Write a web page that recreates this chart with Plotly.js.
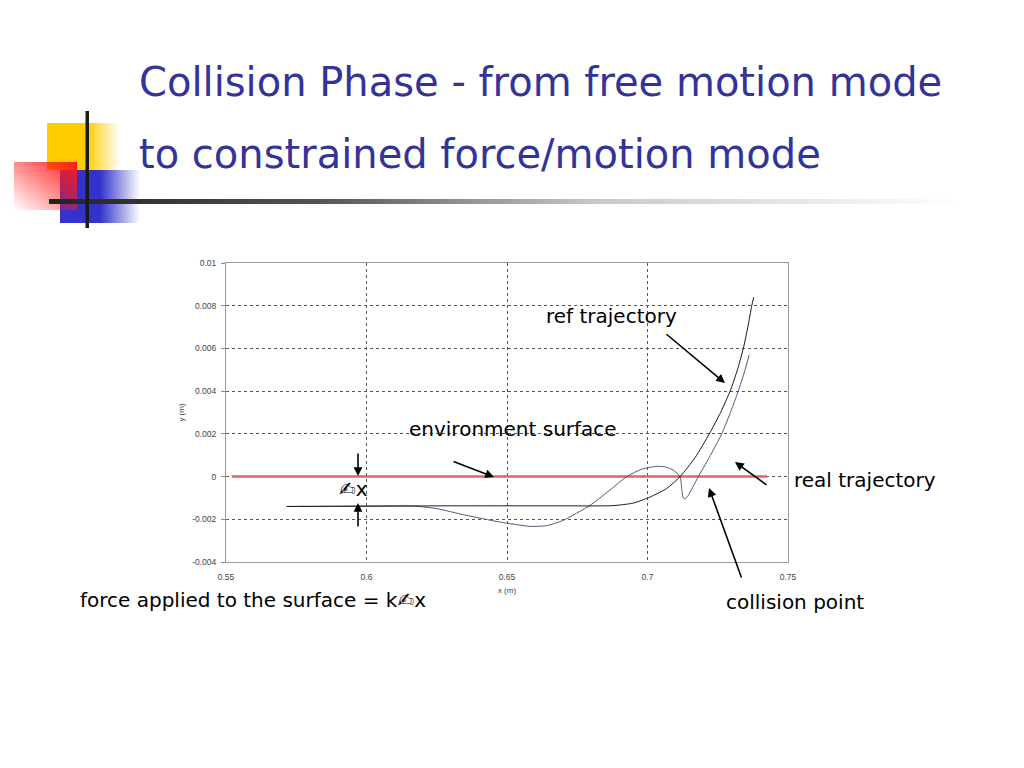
<!DOCTYPE html>
<html>
<head>
<meta charset="utf-8">
<script src="https://cdn.plot.ly/plotly-3.0.1.min.js"></script>
<style>
  html, body { margin: 0; padding: 0; background: #ffffff; }
  #chart { width: 1024px; height: 768px; }
</style>
</head>
<body>
<div id="chart"></div>
<script>
// ---- data ----
const refX = [0.5716, 0.590, 0.610, 0.630, 0.650, 0.670, 0.6877, 0.6950, 0.7009, 0.7068, 0.7116, 0.7170, 0.7220, 0.7260, 0.7294, 0.7320, 0.7341, 0.7357, 0.7371, 0.7378];
const refY = [-0.00140, -0.00139, -0.00138, -0.00137, -0.00137, -0.00137, -0.00136, -0.00124, -0.00096, -0.00056, 0.0, 0.00090, 0.00200, 0.00300, 0.00400, 0.00500, 0.00600, 0.00700, 0.00800, 0.00840];

const realX = [0.5716, 0.590, 0.6050, 0.6166, 0.625, 0.635, 0.6475, 0.6582, 0.664, 0.670, 0.6795, 0.686, 0.6926, 0.698, 0.7033, 0.7065, 0.7092, 0.7116, 0.7122, 0.7127, 0.7134, 0.7145, 0.7165, 0.7181, 0.7220, 0.7264, 0.7295, 0.7323, 0.7345, 0.7362];
const realY = [-0.00140, -0.00139, -0.00138, -0.00138, -0.00150, -0.00180, -0.00213, -0.00233, -0.00230, -0.00205, -0.00135, -0.00070, 0.0, 0.00035, 0.00048, 0.00045, 0.00030, 0.0, -0.00060, -0.00100, -0.00104, -0.00088, -0.00040, 0.0, 0.00090, 0.00200, 0.00300, 0.00400, 0.00490, 0.00570];

const surfaceX = [0.5521, 0.7425];
const surfaceY = [0, 0];

const xTickVals = [0.55, 0.6, 0.65, 0.7, 0.75];
const xTickLabels = ["0.55", "0.6", "0.65", "0.7", "0.75"];
const yTickVals = [-0.004, -0.002, 0, 0.002, 0.004, 0.006, 0.008, 0.01];
const yTickLabels = ["-0.004", "-0.002", "0", "0.002", "0.004", "0.006", "0.008", "0.01"];

const titleLine1 = "Collision Phase - from free motion mode";
const titleLine2 = "to constrained force/motion mode";
const xTitle = "x (m)";
const yTitle = "y (m)";
const labelRef = "ref trajectory";
const labelSurface = "environment surface";
const labelReal = "real trajectory";
const labelCollision = "collision point";
const labelForce = "force applied to the surface = k\u270Dx";
const labelDelta = "\u270Dx";

// ---- layout geometry (pixels) ----
const L = 226, R = 788, T = 263, B = 562;
const W = R - L, H = B - T;
function px(x) { return (x - L) / W; }
function py(y) { return (B - y) / H; }

const textFont = { family: "DejaVu Sans, Verdana, sans-serif", size: 20, color: "#000000" };

function label(text, cx, cy, anchor) {
  return { text: text, xref: "paper", yref: "paper", x: px(cx), y: py(cy),
           xanchor: anchor || "center", yanchor: "middle", showarrow: false, font: textFont };
}
function arrow(tailX, tailY, headX, headY) {
  return { text: "", xref: "paper", yref: "paper", x: px(headX), y: py(headY),
           ax: tailX - headX, ay: tailY - headY, axref: "pixel", ayref: "pixel",
           showarrow: true, arrowhead: 2, arrowsize: 1.1, arrowwidth: 1.6, arrowcolor: "#000000" };
}

// decorative logo + rule (page decoration)
const deco = "<svg xmlns='http://www.w3.org/2000/svg' width='1024' height='768' viewBox='0 0 1024 768'>" +
  "<defs>" +
  "<linearGradient id='gy' x1='0' y1='0' x2='1' y2='0'><stop offset='0.55' stop-color='#FFCC00'/><stop offset='1' stop-color='#FFCC00' stop-opacity='0'/></linearGradient>" +
  "<linearGradient id='gb' x1='0' y1='0' x2='1' y2='0'><stop offset='0.5' stop-color='#3333CC'/><stop offset='1' stop-color='#3333CC' stop-opacity='0'/></linearGradient>" +
  "<linearGradient id='gr' x1='1' y1='0' x2='0' y2='1'><stop offset='0' stop-color='#FF1A1A'/><stop offset='1' stop-color='#FF1A1A' stop-opacity='0'/></linearGradient>" +
  "<linearGradient id='gl' x1='0' y1='0' x2='1' y2='0'><stop offset='0' stop-color='#222222'/><stop offset='0.3' stop-color='#555555'/><stop offset='0.6' stop-color='#C8C8C8'/><stop offset='1' stop-color='#FFFFFF'/></linearGradient>" +
  "</defs>" +
  "<rect x='47' y='123' width='73' height='47' fill='url(#gy)'/>" +
  "<rect x='60' y='170' width='80' height='53' fill='url(#gb)'/>" +
  "<rect x='14' y='162' width='63' height='48' fill='url(#gr)'/>" +
  "<rect x='49' y='199' width='911' height='5' fill='url(#gl)'/>" +
  "<rect x='85.5' y='111' width='3.5' height='117' fill='#1A1A1A'/>" +
  "</svg>";

const traces = [
  { x: surfaceX, y: surfaceY, mode: "lines", line: { color: "#E06464", width: 2.5 }, hoverinfo: "skip" },
  { x: realX, y: realY, mode: "lines", line: { color: "#55557A", width: 1, shape: "spline", smoothing: 0.6 }, hoverinfo: "skip" },
  { x: refX, y: refY, mode: "lines", line: { color: "#1A1A1A", width: 1, shape: "spline", smoothing: 0.6 }, hoverinfo: "skip" }
];

const tickFont = { family: "Liberation Sans, Arial, sans-serif", size: 8.5, color: "#444444" };

const layout = {
  width: 1024, height: 768,
  margin: { l: L, r: 1024 - R, t: T, b: 768 - B, pad: 0 },
  paper_bgcolor: "#FFFFFF", plot_bgcolor: "rgba(0,0,0,0)",
  showlegend: false,
  xaxis: {
    range: [0.55, 0.75], tickvals: xTickVals, ticktext: xTickLabels,
    showgrid: true, gridcolor: "#555555", griddash: "3px,3px", gridwidth: 1,
    zeroline: false, showline: true, mirror: true, linecolor: "#999999", linewidth: 1,
    ticks: "", ticklabelstandoff: 7, tickfont: tickFont,
    title: { text: xTitle, font: { family: "Liberation Sans, Arial, sans-serif", size: 8, color: "#444444" }, standoff: 6 }
  },
  yaxis: {
    range: [-0.004, 0.01], tickvals: yTickVals, ticktext: yTickLabels,
    showgrid: true, gridcolor: "#555555", griddash: "3px,3px", gridwidth: 1,
    zeroline: false, showline: true, mirror: true, linecolor: "#999999", linewidth: 1,
    ticks: "outside", ticklen: 4, tickcolor: "#888888", ticklabelstandoff: 3, tickfont: tickFont,
    title: { text: yTitle, font: { family: "Liberation Sans, Arial, sans-serif", size: 8, color: "#444444" }, standoff: 6 }
  },
  images: [{
    source: "data:image/svg+xml;charset=utf-8," + encodeURIComponent(deco),
    xref: "paper", yref: "paper", x: px(0), y: py(0),
    sizex: 1024 / W, sizey: 768 / H, xanchor: "left", yanchor: "top",
    sizing: "stretch", layer: "below"
  }],
  annotations: [
    { text: titleLine1, xref: "paper", yref: "paper", x: px(137), y: py(82), xanchor: "left", yanchor: "middle", showarrow: false,
      font: { family: "DejaVu Sans, Verdana, sans-serif", size: 40, color: "#333399" } },
    { text: titleLine2, xref: "paper", yref: "paper", x: px(137), y: py(154), xanchor: "left", yanchor: "middle", showarrow: false,
      font: { family: "DejaVu Sans, Verdana, sans-serif", size: 40, color: "#333399" } },
    label(labelRef, 611, 316),
    label(labelSurface, 513, 429),
    label(labelReal, 865, 480),
    label(labelCollision, 795, 602),
    label(labelForce, 78, 600, "left"),
    label(labelDelta, 337, 489, "left"),
    arrow(665, 333, 725, 383),
    arrow(452, 461, 494, 477),
    arrow(768, 486, 735, 462),
    arrow(742, 579, 709, 488),
    arrow(358, 452, 358, 476),
    arrow(358, 528, 358, 503)
  ]
};

Plotly.newPlot("chart", traces, layout, { staticPlot: true, displayModeBar: false });
</script>
</body>
</html>
